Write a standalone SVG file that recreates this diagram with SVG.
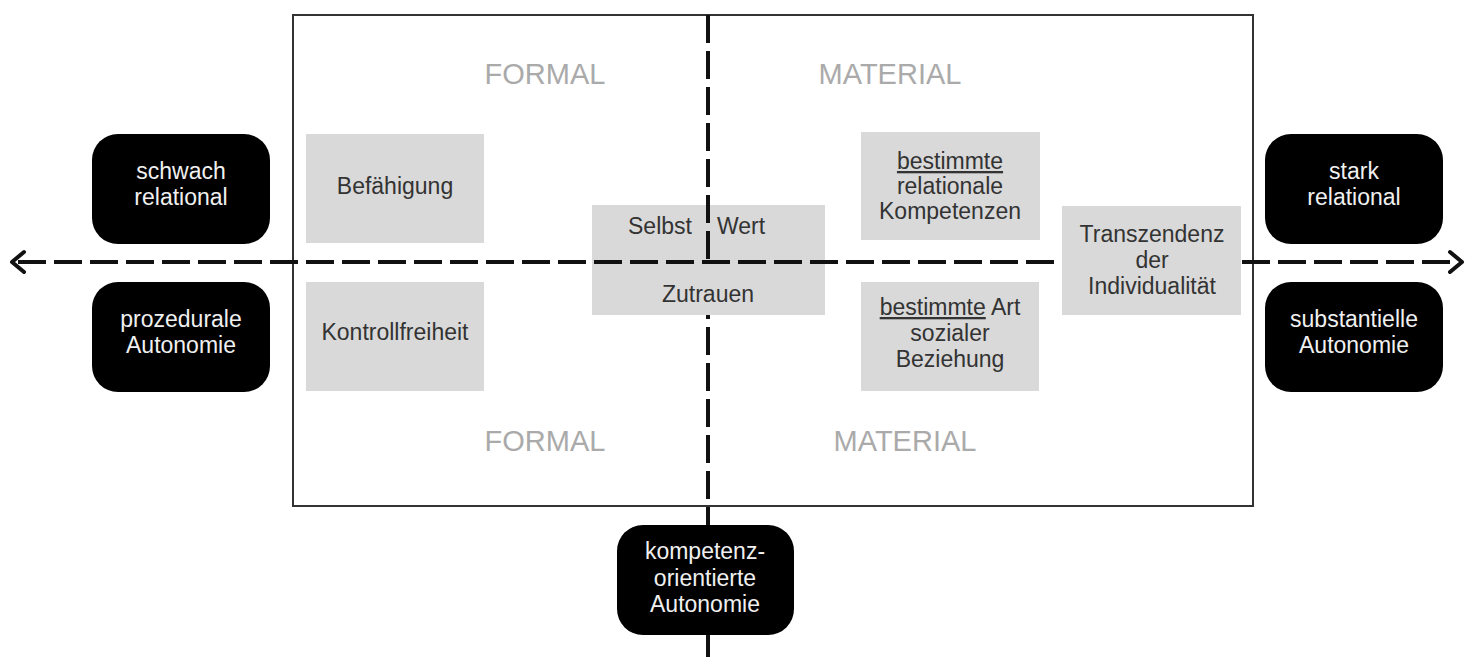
<svg xmlns="http://www.w3.org/2000/svg" width="1474" height="657" viewBox="0 0 1474 657">
<style>
.blk{fill:#000;}
.gry{fill:#d9d9d9;}
.tw{font-family:"Liberation Sans",Arial,sans-serif;font-size:23px;fill:#f0f0f0;text-anchor:middle;}
.tg{font-family:"Liberation Sans",Arial,sans-serif;font-size:23px;fill:#333;text-anchor:middle;}
.lab{font-family:"Liberation Sans",Arial,sans-serif;font-size:29px;fill:#aaa;text-anchor:middle;}
.dash{stroke:#111;stroke-width:4;fill:none;stroke-dasharray:28 8;}
.solid{stroke:#111;stroke-width:4;fill:none;}
.arr{stroke:#111;stroke-width:4;fill:none;stroke-linecap:round;stroke-linejoin:round;}
</style>
<rect width="1474" height="657" fill="#fff"/>
<g id="frame">
<rect x="293" y="15" width="960" height="491" fill="none" stroke="#333" stroke-width="2"/>
</g>
<g id="labels">
<text class="lab" x="545" y="84">FORMAL</text>
<text class="lab" x="890" y="84">MATERIAL</text>
<text class="lab" x="545" y="451">FORMAL</text>
<text class="lab" x="905" y="451">MATERIAL</text>
</g>
<g id="selbstwert">
<rect class="gry" x="592" y="205" width="233" height="110"/>
</g>
<g id="connectors">
<line class="dash" x1="18" y1="262" x2="1456" y2="262"/>
<polyline class="arr" points="24,252 12,262 24,272"/>
<polyline class="arr" points="1450,252 1462,262 1450,272"/>
<line class="dash" x1="708" y1="15" x2="708" y2="262"/>
<line class="dash" x1="708" y1="315" x2="708" y2="525" stroke-dashoffset="-12"/>
<line class="solid" x1="708" y1="634" x2="708" y2="657"/>
</g>
<g id="selbstwert-text">
<rect class="gry" x="592" y="264" width="233" height="51"/>
<text class="tg" x="660" y="234">Selbst</text>
<text class="tg" x="741" y="234">Wert</text>
<text class="tg" x="708" y="302">Zutrauen</text>
</g>
<g id="schwach">
<rect class="blk" x="92" y="134" width="178" height="110" rx="26"/>
<text class="tw" x="181" y="179">schwach</text>
<text class="tw" x="181" y="205">relational</text>
</g>
<g id="prozedural">
<rect class="blk" x="92" y="282" width="178" height="110" rx="26"/>
<text class="tw" x="181" y="327">prozedurale</text>
<text class="tw" x="181" y="353">Autonomie</text>
</g>
<g id="stark">
<rect class="blk" x="1265" y="134" width="178" height="110" rx="26"/>
<text class="tw" x="1354" y="179">stark</text>
<text class="tw" x="1354" y="205">relational</text>
</g>
<g id="substantiell">
<rect class="blk" x="1265" y="282" width="178" height="110" rx="26"/>
<text class="tw" x="1354" y="327">substantielle</text>
<text class="tw" x="1354" y="353">Autonomie</text>
</g>
<g id="kompetenz">
<rect class="blk" x="617" y="525" width="177" height="110" rx="26"/>
<text class="tw" x="705" y="559">kompetenz-</text>
<text class="tw" x="705" y="586">orientierte</text>
<text class="tw" x="705" y="612">Autonomie</text>
</g>
<g id="befaehigung">
<rect class="gry" x="306" y="134" width="178" height="109"/>
<text class="tg" x="395" y="194">Befähigung</text>
</g>
<g id="kontrollfreiheit">
<rect class="gry" x="306" y="282" width="178" height="109"/>
<text class="tg" x="395" y="340">Kontrollfreiheit</text>
</g>
<g id="kompetenzen">
<rect class="gry" x="861" y="132" width="179" height="108"/>
<text class="tg" x="950" y="169" text-decoration="underline">bestimmte</text>
<text class="tg" x="950" y="194">relationale</text>
<text class="tg" x="950" y="219">Kompetenzen</text>
</g>
<g id="beziehung">
<rect class="gry" x="861" y="282" width="178" height="109"/>
<text class="tg" x="950" y="315"><tspan text-decoration="underline">bestimmte</tspan> Art</text>
<text class="tg" x="950" y="341">sozialer</text>
<text class="tg" x="950" y="367">Beziehung</text>
</g>
<g id="transzendenz">
<rect class="gry" x="1062" y="206" width="179" height="109"/>
<text class="tg" x="1152" y="242">Transzendenz</text>
<text class="tg" x="1152" y="268">der</text>
<text class="tg" x="1152" y="294">Individualität</text>
</g>
</svg>
